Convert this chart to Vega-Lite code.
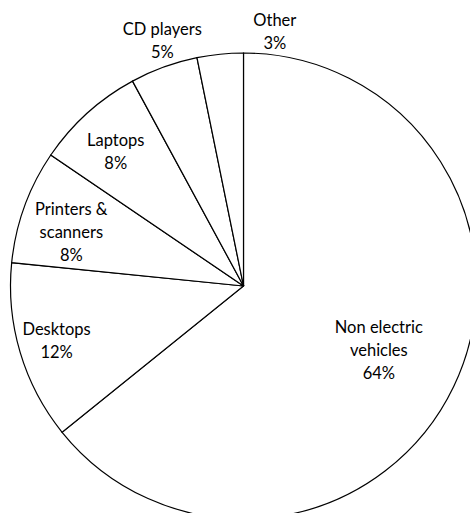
{
  "$schema": "https://vega.github.io/schema/vega-lite/v6.json",
  "width": 487,
  "height": 572,
  "autosize": {"type": "none"},
  "padding": 0,
  "background": "white",
  "view": {"stroke": null},
  "data": {
    "values": [
      {"category": "Non electric vehicles", "order": 1, "value": 64.2, "label": "Non electric\nvehicles\n64%"},
      {"category": "Desktops", "order": 2, "value": 12.4, "label": "Desktops\n12%"},
      {"category": "Printers & scanners", "order": 3, "value": 7.9, "label": "Printers &\nscanners\n8%"},
      {"category": "Laptops", "order": 4, "value": 7.6, "label": "Laptops\n8%"},
      {"category": "CD players", "order": 5, "value": 4.7, "label": "CD players\n5%"},
      {"category": "Other", "order": 6, "value": 3.2, "label": "Other\n3%"}
    ]
  },
  "encoding": {
    "theta": {"field": "value", "type": "quantitative", "stack": true},
    "order": {"field": "order", "type": "quantitative"}
  },
  "layer": [
    {
      "mark": {"type": "arc", "radius": 233, "fill": "white", "stroke": "black", "strokeWidth": 1.2}
    },
    {
      "mark": {"type": "text", "radius": 150, "dy": -23, "font": "Lato", "fontSize": 16.5, "lineHeight": 23, "lineBreak": "\n", "align": "center", "baseline": "middle", "color": "black"},
      "encoding": {"text": {"condition": {"test": "datum.category === 'Non electric vehicles'", "field": "label"}, "value": ""}}
    },
    {
      "mark": {"type": "text", "radius": 195, "dy": -11.5, "font": "Lato", "fontSize": 16.5, "lineHeight": 23, "lineBreak": "\n", "align": "center", "baseline": "middle", "color": "black"},
      "encoding": {"text": {"condition": {"test": "datum.category === 'Desktops'", "field": "label"}, "value": ""}}
    },
    {
      "mark": {"type": "text", "radius": 180, "dx": -3, "dy": -14, "font": "Lato", "fontSize": 16.5, "lineHeight": 23, "lineBreak": "\n", "align": "center", "baseline": "middle", "color": "black"},
      "encoding": {"text": {"condition": {"test": "datum.category === 'Printers & scanners'", "field": "label"}, "value": ""}}
    },
    {
      "mark": {"type": "text", "radius": 186, "dx": -3, "dy": -7.5, "font": "Lato", "fontSize": 16.5, "lineHeight": 23, "lineBreak": "\n", "align": "center", "baseline": "middle", "color": "black"},
      "encoding": {"text": {"condition": {"test": "datum.category === 'Laptops'", "field": "label"}, "value": ""}}
    },
    {
      "mark": {"type": "text", "radius": 258, "dx": 7, "dy": -14, "font": "Lato", "fontSize": 16.5, "lineHeight": 23, "lineBreak": "\n", "align": "center", "baseline": "middle", "color": "black"},
      "encoding": {"text": {"condition": {"test": "datum.category === 'CD players'", "field": "label"}, "value": ""}}
    },
    {
      "mark": {"type": "text", "radius": 256, "dx": 57, "dy": -10.5, "font": "Lato", "fontSize": 16.5, "lineHeight": 23, "lineBreak": "\n", "align": "center", "baseline": "middle", "color": "black"},
      "encoding": {"text": {"condition": {"test": "datum.category === 'Other'", "field": "label"}, "value": ""}}
    }
  ]
}
